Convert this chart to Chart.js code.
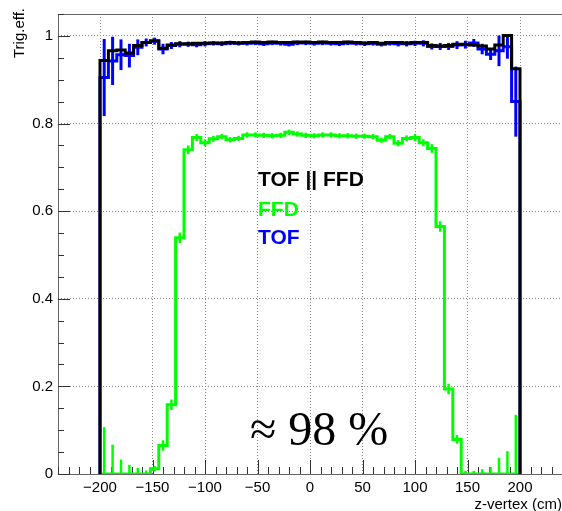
<!DOCTYPE html>
<html>
<head>
<meta charset="utf-8">
<script src="https://cdn.jsdelivr.net/npm/chart.js@4.4.0/dist/chart.umd.min.js"></script>
<style>
body { margin:0; background:#fff; }
#wrap { width:562px; height:511px; position:relative; }
</style>
</head>
<body>
<div id="wrap"><canvas id="chart"></canvas></div>
<script>
// z-vertex bin edges (cm)
const binEdges = [-200,-192,-184,-176,-168,-160,-152,-144,-136,-128,-120,-112,-104,-96,-88,-80,-72,-64,-56,-48,
    -40,-32,-24,-16,-8,0,8,16,24,32,40,48,56,64,72,80,88,96,104,112,120,128,136,144,152,160,168,176,184,192,200]

// TOF || FFD
const tofOrFfd = [0.944,0.966,0.968,0.961,0.978,0.985,0.989,0.972,0.979,0.982,
    0.982,0.983,0.983,0.984,0.984,0.985,0.984,0.985,0.986,0.985,
    0.986,0.985,0.985,0.986,0.986,0.985,0.986,0.985,0.985,0.986,
    0.985,0.984,0.985,0.983,0.985,0.985,0.984,0.985,0.985,0.978,
    0.977,0.978,0.981,0.981,0.979,0.977,0.970,0.979,1.001,0.925]

// TOF
const tof = [0.905,0.943,0.957,0.955,0.974,0.985,0.988,0.970,0.978,0.981,
    0.981,0.980,0.982,0.983,0.982,0.984,0.983,0.983,0.984,0.982,
    0.984,0.983,0.981,0.984,0.984,0.983,0.984,0.983,0.982,0.984,
    0.983,0.982,0.983,0.981,0.983,0.982,0.982,0.983,0.983,0.976,
    0.976,0.976,0.979,0.980,0.984,0.970,0.958,0.966,0.975,0.850]
const tofErr = [0.088,0.055,0.035,0.027,0.018,0.009,0.008,0.012,0.008,0.007,
    0.006,0.006,0.006,0.005,0.005,0.005,0.005,0.005,0.005,0.005,
    0.005,0.005,0.005,0.005,0.005,0.005,0.005,0.005,0.005,0.005,
    0.005,0.005,0.005,0.005,0.005,0.006,0.006,0.006,0.007,0.007,
    0.008,0.008,0.009,0.009,0.009,0.012,0.013,0.035,0.027,0.080]

// FFD
const ffd = [0,0,0,0,0,0,0.012,0.065,0.158,0.539,
    0.740,0.768,0.756,0.765,0.770,0.763,0.766,0.774,0.774,0.773,
    0.772,0.773,0.780,0.776,0.773,0.772,0.774,0.774,0.772,0.772,
    0.771,0.771,0.770,0.762,0.770,0.755,0.766,0.768,0.756,0.743,
    0.565,0.194,0.079,0,0,0,0,0,0,0]
const ffdErr = [0.107,0.067,0.033,0.021,0.014,0.008,0.006,0.012,0.012,0.012,
    0.010,0.008,0.008,0.007,0.006,0.006,0.006,0.006,0.006,0.006,
    0.006,0.006,0.006,0.006,0.006,0.006,0.006,0.006,0.006,0.006,
    0.006,0.006,0.006,0.006,0.006,0.007,0.007,0.008,0.008,0.010,
    0.012,0.012,0.010,0.007,0.007,0.011,0.016,0.037,0.052,0.135]

const xTicks = [-200,-150,-100,-50,0,50,100,150,200]
const yTicks = [0,0.2,0.4,0.6,0.8,1]

const FONT = '"Liberation Sans", Arial, Helvetica, sans-serif'

// histogram outline: starts and ends at zero on the outer edges
function histPoints(vals) {
    const n = vals.length
    const pts = [{x: binEdges[0], y: 0}]
    vals.forEach((v, i) => pts.push({x: binEdges[i], y: v}))
    pts.push({x: binEdges[n], y: vals[n - 1]})
    pts.push({x: binEdges[n], y: 0})
    return pts
}

const errorBars = {
    id: 'errorBars',
    afterDatasetDraw(chart, args) {
        const ds = chart.data.datasets[args.index]
        if (!ds.errors) return
        const {ctx, chartArea: a, scales: {x, y}} = chart
        ctx.save()
        ctx.beginPath()
        ctx.rect(a.left, a.top, a.right - a.left, a.bottom - a.top)
        ctx.clip()
        ctx.strokeStyle = ds.borderColor
        ctx.lineWidth = ds.errorWidth
        ds.values.forEach((v, i) => {
            const e = ds.errors[i]
            const xc = x.getPixelForValue((binEdges[i] + binEdges[i + 1]) / 2)
            ctx.beginPath()
            ctx.moveTo(xc, y.getPixelForValue(v - e))
            ctx.lineTo(xc, y.getPixelForValue(v + e))
            ctx.stroke()
        })
        ctx.restore()
    }
}

// ROOT style frame with inside ticks
const frame = {
    id: 'frame',
    beforeDatasetsDraw(chart) {
        const {ctx, chartArea: a, scales: {x, y}} = chart
        ctx.save()
        ctx.strokeStyle = '#666'
        ctx.lineWidth = 1
        ctx.strokeRect(a.left + 0.5, a.top + 0.5, a.right - a.left, a.bottom - a.top)
        ctx.strokeStyle = '#333'
        for (let k = 0; k <= 21; k++) {
            const py = Math.round(y.getPixelForValue(k * 0.05)) + 0.5
            const len = k % 4 === 0 ? 12 : 6
            ctx.beginPath(); ctx.moveTo(a.left, py); ctx.lineTo(a.left + len, py); ctx.stroke()
        }
        for (let v = -240; v <= 240; v += 10) {
            const px = Math.round(x.getPixelForValue(v)) + 0.5
            const len = v % 50 === 0 ? 14 : 7
            ctx.beginPath(); ctx.moveTo(px, a.bottom); ctx.lineTo(px, a.bottom - len); ctx.stroke()
        }
        ctx.restore()
    }
}

const labels = {
    id: 'labels',
    afterDraw(chart) {
        const ctx = chart.ctx
        ctx.save()
        ctx.textAlign = 'left'
        ctx.textBaseline = 'alphabetic'
        ctx.font = 'bold 21px ' + FONT
        ctx.fillStyle = '#000'
        ctx.fillText('TOF || FFD', 258, 186)
        ctx.fillStyle = '#00ff00'
        ctx.fillText('FFD', 258, 216)
        ctx.fillStyle = '#0000ff'
        ctx.fillText('TOF', 258, 244)

        ctx.fillStyle = '#000'
        ctx.font = '48px "Liberation Serif", "Times New Roman", serif'
        ctx.fillText('\u2248 98 %', 250, 445)

        ctx.font = '15px ' + FONT
        ctx.textAlign = 'right'
        ctx.fillText('z-vertex (cm)', 562, 509)

        ctx.translate(24, 8)
        ctx.rotate(-Math.PI / 2)
        ctx.fillText('Trig.eff.', 0, 0)
        ctx.restore()
    }
}

new Chart('chart', {
    type: 'line',
    data: {
        datasets: [
            {
                label: 'TOF || FFD',
                data: histPoints(tofOrFfd),
                borderColor: '#000000',
                borderWidth: 3,
                stepped: true,
                pointRadius: 0,
                fill: false
            },
            {
                label: 'FFD',
                data: histPoints(ffd),
                values: ffd,
                errors: ffdErr,
                errorWidth: 2.5,
                borderColor: '#00ff00',
                borderWidth: 3,
                stepped: true,
                pointRadius: 0,
                fill: false
            },
            {
                label: 'TOF',
                data: histPoints(tof),
                values: tof,
                errors: tofErr,
                errorWidth: 3,
                borderColor: '#0000ff',
                borderWidth: 3,
                stepped: true,
                pointRadius: 0,
                fill: false
            }
        ]
    },
    options: {
        responsive: true,
        maintainAspectRatio: false,
        animation: false,
        layout: { padding: { top: 11, left: 0, right: 0, bottom: 0 } },
        plugins: { legend: { display: false }, tooltip: { enabled: false } },
        scales: {
            x: {
                type: 'linear',
                min: -240,
                max: 240,
                afterBuildTicks: (axis) => { axis.ticks = xTicks.map(v => ({value: v})) },
                afterFit: (axis) => { axis.height = 37 },
                ticks: {
                    color: '#000',
                    padding: 5,
                    maxRotation: 0,
                    font: { family: FONT, size: 15 },
                    callback: (v) => v < 0 ? '\u2212' + Math.abs(v) : String(v)
                },
                grid: { color: '#888', lineWidth: 1, drawTicks: false },
                border: { display: false, dash: [1, 2] }
            },
            y: {
                min: 0,
                max: 1.05,
                afterBuildTicks: (axis) => { axis.ticks = yTicks.map(v => ({value: v})) },
                afterFit: (axis) => { axis.width = 58 },
                ticks: {
                    color: '#000',
                    padding: 5,
                    font: { family: FONT, size: 15 },
                    callback: (v) => String(+v.toFixed(1))
                },
                grid: { color: '#888', lineWidth: 1, drawTicks: false },
                border: { display: false, dash: [1, 2] }
            }
        }
    },
    plugins: [errorBars, frame, labels]
});
</script>
</body>
</html>
